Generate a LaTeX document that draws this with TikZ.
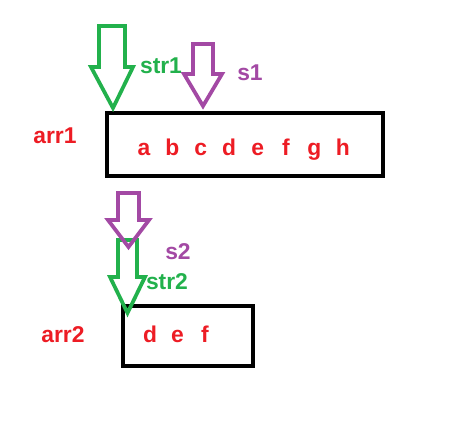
\documentclass[tikz,border=0pt]{standalone}
\usepackage{fontspec}
\setmainfont{Liberation Sans}
\definecolor{pgreen}{RGB}{34,177,76}
\definecolor{ppurple}{RGB}{163,73,164}
\definecolor{pred}{RGB}{237,28,36}
\begin{document}
\begin{tikzpicture}[x=0.02cm,y=-0.02cm,
      box/.style={draw,line width=0.08cm,line join=miter},
      garrow/.style={draw=pgreen,line width=0.075cm,line join=miter},
      parrow/.style={draw=ppurple,line width=0.075cm,line join=miter},
      lbl/.style={anchor=base,inner sep=0pt,font=\bfseries\fontsize{13}{15}\selectfont},
      ]
        \useasboundingbox [fill=white] (0,0) rectangle (460,426);

        % first array
        \path [box] (107,113) coordinate (B1) rectangle (383,176);
        \foreach \c [count=\i] in {a,b,c,d,e,f,g,h}
          \node [lbl,text=pred] (x\i) at (144+28.4*\i-28.4,155) {\c};
        \node [lbl,text=pred] (arr1) at (55,143) {arr1};

        \path [garrow] (99,26) coordinate (G1) -- ++(26,0) -- ++(0,41)
          -- ++(8,0) -- ++(-20,41) coordinate (G1tip) -- ++(-22,-41)
          -- ++(8,0) -- cycle;
        \node [lbl,text=pgreen] (str1) at (161,73) {str1};

        \path [parrow] (193,44) coordinate (P1) -- ++(20,0) -- ++(0,30)
          -- ++(9,0) -- ++(-19,32) coordinate (P1tip) -- ++(-19,-32)
          -- ++(9,0) -- cycle;
        \node [lbl,text=ppurple] (s1) at (250,80) {s1};

        % second array
        \path [box] (123,306) coordinate (B2) rectangle (253,366);
        \foreach \c [count=\i] in {d,e,f}
          \node [lbl,text=pred] (y\i) at (150+27.5*\i-27.5,342) {\c};
        \node [lbl,text=pred] (arr2) at (63,342) {arr2};

        \path [garrow] (118,240) coordinate (G2) -- ++(19,0) -- ++(0,37)
          -- ++(8,0) -- ++(-17.5,36) coordinate (G2tip) -- ++(-17.5,-36)
          -- ++(8,0) -- cycle;
        \node [lbl,text=pgreen] (str2) at (167,289) {str2};

        \path [parrow] (118,193) coordinate (P2) -- ++(21,0) -- ++(0,27)
          -- ++(10,0) -- ++(-20.5,27) coordinate (P2tip) -- ++(-20.5,-27)
          -- ++(10,0) -- cycle;
        \node [lbl,text=ppurple] (s2) at (178,259) {s2};
      \end{tikzpicture}
\end{document}
